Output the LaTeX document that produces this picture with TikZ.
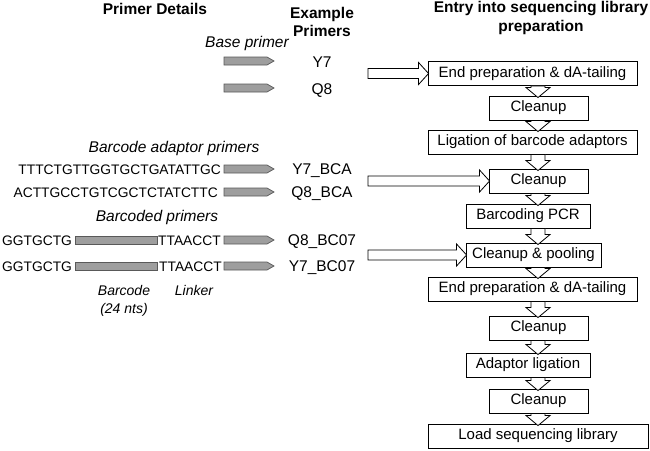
\documentclass[tikz,border=0pt]{standalone}
\usepackage{fontspec}
\setmainfont{Liberation Sans}
\usetikzlibrary{calc}
\newcommand\dnarrow[2]{%
  \draw[hollow] let \p1=(ax |- #1.south), \p2=(ax |- #2.north) in
    ({\x1-7pt},\y1) -- ({\x1+7pt},\y1) -- ({\x1+7pt},{\y2+8pt}) -- ({\x1+12pt},{\y2+8pt})
    -- (\x1,{\y2-2pt}) -- ({\x1-12pt},{\y2+8pt}) -- ({\x1-7pt},{\y2+8pt}) -- cycle;}
\newcommand\rtarrow[2]{%
  \draw[hollow] let \p1=(#1), \p2=(#2.west) in
    (\x1,{\y2+5pt}) -- ({\x2-9pt},{\y2+5pt}) -- ({\x2-9pt},{\y2+11pt}) -- ({\x2+1pt},\y2)
    -- ({\x2-9pt},{\y2-11pt}) -- ({\x2-9pt},{\y2-5pt}) -- (\x1,{\y2-5pt}) -- cycle;}
\newcommand\parrow[2]{%
  \draw[primer] ({#1},{#2-4}) -- ({#1+43},{#2-4}) -- ({#1+50},{#2}) -- ({#1+43},{#2+4}) -- ({#1},{#2+4}) -- cycle;}
\begin{document}
\begin{tikzpicture}[x=1pt,y=-1pt,
  stepbox/.style={draw=black, line width=0.9pt, minimum height=24pt, inner sep=0pt,
    font=\fontsize{15}{18}\selectfont},
  hollow/.style={draw=black, line width=0.8pt, fill=white, line join=miter},
  primer/.style={draw=black!65, fill=black!38, line width=0.7pt},
  hdr/.style={font=\fontsize{15.5}{18.5}\bfseries, align=center, inner sep=0pt, anchor=base},
  ital/.style={font=\fontsize{15.5}{18}\itshape, inner sep=0pt, anchor=base},
  smital/.style={font=\fontsize{14}{18}\itshape, inner sep=0pt, anchor=base},
  seq/.style={font=\fontsize{13.8}{16}\selectfont, inner sep=0pt, anchor=base},
  pname/.style={font=\fontsize{15.5}{18}\selectfont, inner sep=0pt, anchor=base}]
\useasboundingbox (0,0) rectangle (650,450);
\coordinate (ax) at (538,0);
% headers
\node[hdr] (h1) at (155,14) {Primer Details};
\node[hdr, anchor=center] (h2) at (322,22) {Example\\Primers};
\node[hdr, anchor=center] (h3) at (541,18) {Entry into sequencing library\\preparation};
% base primers
\node[ital] (tbase) at (247,47) {Base primer};
\parrow{224}{61}
\parrow{224}{88}
\node[pname] (y7) at (322,67) {Y7};
\node[pname] (q8) at (322,94) {Q8};
% barcode adaptor primers
\node[ital] (tbca) at (174,152) {Barcode adaptor primers};
\node[seq, anchor=base east] (s1) at (221,174) {TTTCTGTTGGTGCTGATATTGC};
\node[seq, anchor=base east] (s2) at (218,197) {ACTTGCCTGTCGCTCTATCTTC};
\parrow{224}{169}
\parrow{224}{192}
\node[pname] (y7bca) at (322,174) {Y7\_BCA};
\node[pname] (q8bca) at (322,197) {Q8\_BCA};
% barcoded primers
\node[ital] (tbc) at (157,221) {Barcoded primers};
\node[seq, anchor=base west] (g1) at (2,245) {GGTGCTG};
\node[seq, anchor=base west] (g2) at (2,271) {GGTGCTG};
\draw[primer] (75,236) rectangle (157,244);
\draw[primer] (75,262) rectangle (157,270);
\node[seq, anchor=base west] (l1) at (158,245) {TTAACCT};
\node[seq, anchor=base west] (l2) at (159,271) {TTAACCT};
\parrow{224}{240}
\parrow{224}{266}
\node[pname] (q8bc) at (322,245) {Q8\_BC07};
\node[pname] (y7bc) at (322,271) {Y7\_BC07};
\node[smital] (tbar) at (124,295) {Barcode};
\node[smital] (tnts) at (124,313) {(24 nts)};
\node[smital] (tlnk) at (194,295) {Linker};
% workflow boxes
\node[stepbox, minimum width=209pt] (b1) at (532.5,73.5) {End preparation \& dA-tailing};
\node[stepbox, minimum width=99pt] (b2) at (538.5,108) {Cleanup};
\node[stepbox, minimum width=209pt] (b3) at (532.5,142) {Ligation of barcode adaptors};
\node[stepbox, minimum width=99pt] (b4) at (538.5,181) {Cleanup};
\node[stepbox, minimum width=124pt] (b5) at (528,216) {Barcoding PCR};
\node[stepbox, minimum width=135pt] (b6) at (533.5,255) {Cleanup \& pooling};
\node[stepbox, minimum width=209pt] (b7) at (532.5,289) {End preparation \& dA-tailing};
\node[stepbox, minimum width=99pt] (b8) at (538.5,328) {Cleanup};
\node[stepbox, minimum width=124pt] (b9) at (528,365) {Adaptor ligation};
\node[stepbox, minimum width=99pt] (b10) at (538.5,401) {Cleanup};
\node[stepbox, minimum width=220pt] (b11) at (538,436) {Load sequencing library};
% down arrows
\dnarrow{b1}{b2}
\dnarrow{b2}{b3}
\dnarrow{b3}{b4}
\dnarrow{b4}{b5}
\dnarrow{b5}{b6}
\dnarrow{b6}{b7}
\dnarrow{b7}{b8}
\dnarrow{b8}{b9}
\dnarrow{b9}{b10}
\dnarrow{b10}{b11}
% entry arrows
\coordinate (e1) at (368,73.5);
\coordinate (e2) at (368,181);
\coordinate (e3) at (368,255);
\rtarrow{e1}{b1}
\rtarrow{e2}{b4}
\rtarrow{e3}{b6}
\end{tikzpicture}
\end{document}
